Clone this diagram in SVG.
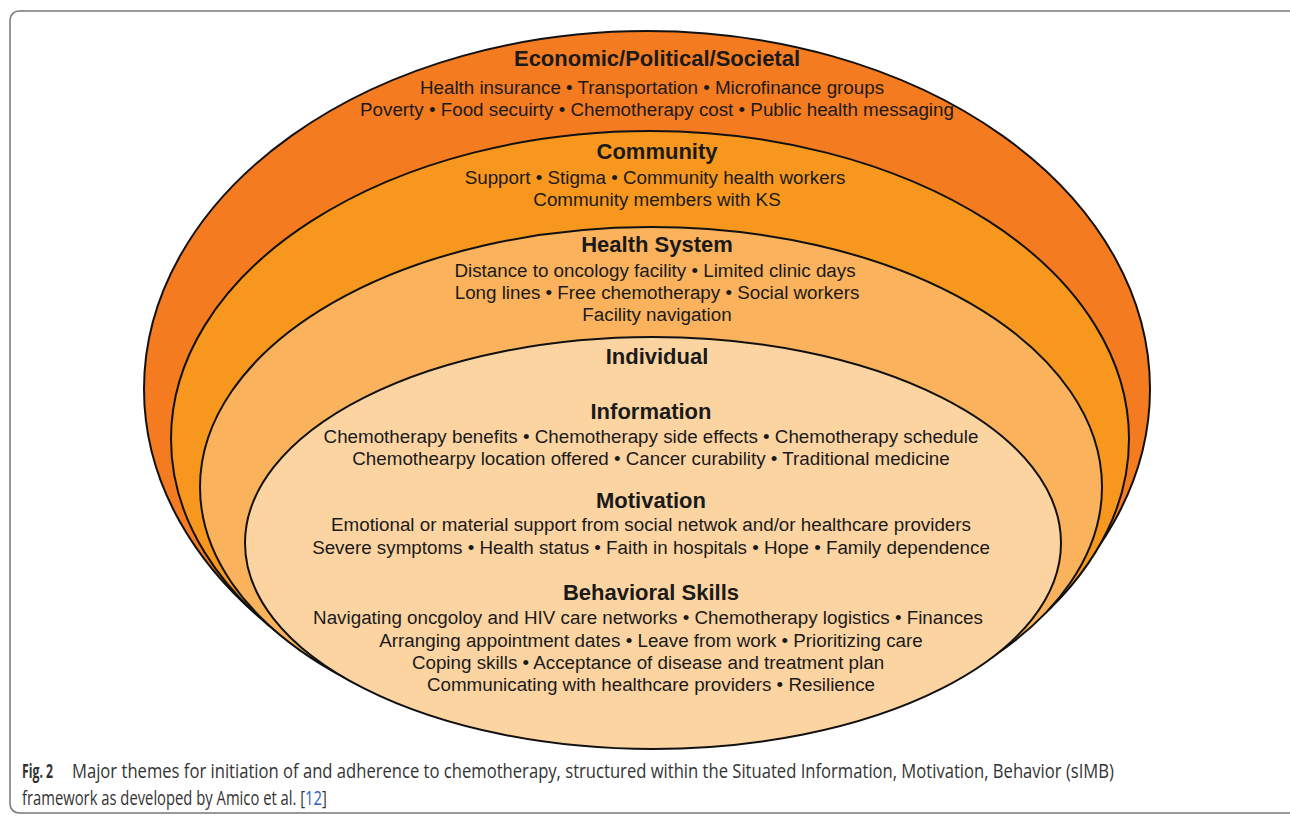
<svg xmlns="http://www.w3.org/2000/svg" width="1290" height="816" viewBox="0 0 1290 816">
  <style>
    .layer { stroke: #111; stroke-width: 2; }
    .title { font-family: "Liberation Sans", Arial, sans-serif; font-weight: bold; font-size: 22px; fill: #1a1a1a; text-anchor: middle; }
    .item { font-family: "Liberation Sans", Arial, sans-serif; font-size: 18.8px; fill: #1a1a1a; text-anchor: middle; }
    .cap { font-family: "Open Sans", "Noto Sans", sans-serif; font-size: 20px; fill: #333; }
    .ref { fill: #2B5FC4; }
  </style>

  <rect x="0" y="0" width="1290" height="816" fill="#fff"/>
  <!-- figure frame -->
  <rect x="10" y="11" width="1290" height="802" rx="9" fill="none" stroke="#777" stroke-width="1.5"/>

  <!-- outermost ring -->
  <g id="economic">
    <ellipse class="layer" cx="647" cy="389" rx="503" ry="358" fill="#F47B20"/>
    <text class="title" x="657" y="66">Economic/Political/Societal</text>
    <text class="item" x="652" y="94">Health insurance • Transportation • Microfinance groups</text>
    <text class="item" x="657" y="116">Poverty • Food secuirty • Chemotherapy cost • Public health messaging</text>
  </g>

  <g id="community">
    <ellipse class="layer" cx="650" cy="439" rx="479" ry="308" fill="#F7971E"/>
    <text class="title" x="657" y="159">Community</text>
    <text class="item" x="655" y="184">Support • Stigma • Community health workers</text>
    <text class="item" x="657" y="206">Community members with KS</text>
  </g>

  <g id="health-system">
    <ellipse class="layer" cx="651" cy="487" rx="451" ry="260" fill="#FAB25D"/>
    <text class="title" x="657" y="252">Health System</text>
    <text class="item" x="655" y="277">Distance to oncology facility • Limited clinic days</text>
    <text class="item" x="657" y="299">Long lines • Free chemotherapy • Social workers</text>
    <text class="item" x="657" y="321">Facility navigation</text>
  </g>

  <g id="individual">
    <ellipse class="layer" cx="653" cy="543" rx="408" ry="206" fill="#FCD4A2"/>
    <text class="title" x="657" y="364">Individual</text>

    <text class="title" x="651" y="419">Information</text>
    <text class="item" x="651" y="443">Chemotherapy benefits • Chemotherapy side effects • Chemotherapy schedule</text>
    <text class="item" x="651" y="465">Chemothearpy location offered • Cancer curability • Traditional medicine</text>

    <text class="title" x="651" y="508">Motivation</text>
    <text class="item" x="651" y="531">Emotional or material support from social netwok and/or healthcare providers</text>
    <text class="item" x="651" y="554">Severe symptoms • Health status • Faith in hospitals • Hope • Family dependence</text>

    <text class="title" x="651" y="600">Behavioral Skills</text>
    <text class="item" x="648" y="624">Navigating oncgoloy and HIV care networks • Chemotherapy logistics • Finances</text>
    <text class="item" x="651" y="647">Arranging appointment dates • Leave from work • Prioritizing care</text>
    <text class="item" x="648" y="669">Coping skills • Acceptance of disease and treatment plan</text>
    <text class="item" x="651" y="691">Communicating with healthcare providers • Resilience</text>
  </g>

  <!-- caption, set in a horizontally condensed face -->
  <g id="caption">
    <text class="cap" transform="translate(22,778) scale(0.74,1)" textLength="42" lengthAdjust="spacingAndGlyphs" font-weight="bold" fill="#111">Fig. 2</text>
    <text class="cap" transform="translate(72,778) scale(0.74,1)" textLength="1408" lengthAdjust="spacingAndGlyphs">Major themes for initiation of and adherence to chemotherapy, structured within the Situated Information, Motivation, Behavior (sIMB)</text>
    <text class="cap" transform="translate(22,805) scale(0.74,1)">framework as developed by Amico et al. [<tspan class="ref">12</tspan>]</text>
  </g>
</svg>
